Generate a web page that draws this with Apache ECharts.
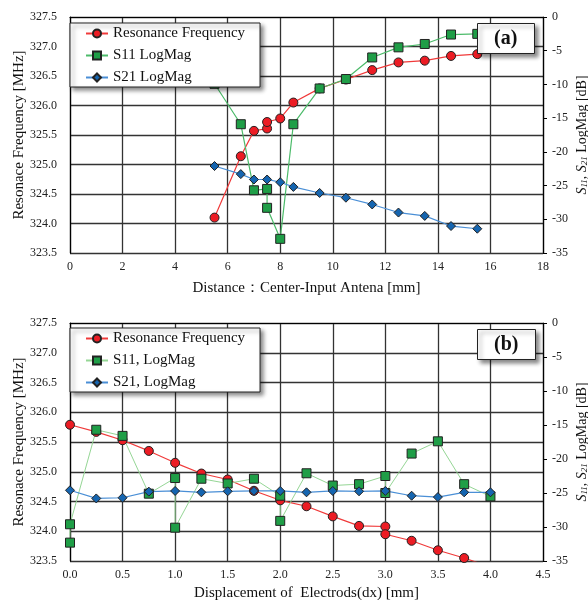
<!DOCTYPE html>
<html><head><meta charset="utf-8">
<script src="https://cdn.jsdelivr.net/npm/echarts@6/dist/echarts.min.js"></script>
<style>html,body{margin:0;padding:0;background:#fff}#c{width:588px;height:600px}</style>
</head><body><div id="c"></div>
<script>
// ---- Chart (a) data ----
const aFreqX = [5.5, 6.5, 7.0, 7.5, 7.5, 8.0, 8.5, 9.5, 10.5, 11.5, 12.5, 13.5, 14.5, 15.5];
const aFreqY = [324.10, 325.14, 325.57, 325.61, 325.72, 325.78, 326.05, 326.29, 326.44, 326.60, 326.73, 326.76, 326.84, 326.87];
const aS11X = [5.5, 6.5, 7.0, 7.5, 7.5, 8.0, 8.5, 9.5, 10.5, 11.5, 12.5, 13.5, 14.5, 15.5];
const aS11Y = [-9.9, -15.9, -25.7, -25.5, -28.3, -32.9, -15.9, -10.6, -9.2, -6.0, -4.5, -4.0, -2.6, -2.5];
const aS21X = [5.5, 6.5, 7.0, 7.5, 8.0, 8.5, 9.5, 10.5, 11.5, 12.5, 13.5, 14.5, 15.5];
const aS21Y = [-22.1, -23.3, -24.1, -24.1, -24.5, -25.2, -26.1, -26.8, -27.8, -29.0, -29.5, -31.0, -31.4];
// ---- Chart (b) data ----
const bFreqX = [0, 0.25, 0.5, 0.75, 1.0, 1.25, 1.5, 1.75, 2.0, 2.25, 2.5, 2.75, 3.0, 3.0, 3.25, 3.5, 3.75, 4.0];
const bFreqY = [325.79, 325.67, 325.53, 325.35, 325.15, 324.97, 324.87, 324.68, 324.52, 324.42, 324.25, 324.09, 324.08, 323.95, 323.84, 323.68, 323.55, 323.40];
const bS11X = [0, 0, 0.25, 0.5, 0.75, 1.0, 1.0, 1.25, 1.5, 1.75, 2.0, 2.0, 2.25, 2.5, 2.75, 3.0, 3.0, 3.25, 3.5, 3.75, 4.0];
const bS11Y = [-32.3, -29.6, -15.7, -16.6, -25.1, -22.8, -30.1, -22.9, -23.6, -22.9, -25.4, -29.1, -22.1, -23.9, -23.7, -22.5, -25.0, -19.2, -17.4, -23.7, -25.5];
const bS21X = [0, 0.25, 0.5, 0.75, 1.0, 1.25, 1.5, 1.75, 2.0, 2.25, 2.5, 2.75, 3.0, 3.25, 3.5, 3.75, 4.0];
const bS21Y = [-24.6, -25.8, -25.7, -24.8, -24.7, -24.9, -24.75, -24.7, -24.7, -24.9, -24.7, -24.75, -24.7, -25.4, -25.6, -24.9, -24.9];

const aNames = ['Resonance Frequency', 'S11 LogMag', 'S21 LogMag'];
const bNames = ['Resonance Frequency', 'S11, LogMag', 'S21, LogMag'];
const panelLabels = ['(a)', '(b)'];
const xTitles = ['Distance\uFF1ACenter-Input Antena [mm]', 'Displacement of  Electrods(dx) [mm]'];
const yTitle = 'Resonace Frequency [MHz]';

const FONT = '"Liberation Serif", "Times New Roman", serif';
const zip = (xs, ys) => xs.map((x, i) => [x, ys[i]]);

const grids = [
  {left: 70, right: 45, top: 17, height: 236, outerBoundsMode: 'none', containLabel: false},
  {left: 70, right: 45, top: 323, height: 238, outerBoundsMode: 'none', containLabel: false}
];
function xAxis(gi, max, interval, fmt) {
  return {
    type: 'value', gridIndex: gi, min: 0, max: max, interval: interval,
    name: xTitles[gi], nameLocation: 'middle', nameGap: gi === 0 ? 28 : 25, nameMoveOverlap: false,
    nameTextStyle: {fontFamily: FONT, fontSize: 15, color: '#111'},
    axisLine: {show: true, lineStyle: {color: '#000', width: 1.2}},
    axisTick: {show: false},
    axisLabel: {fontFamily: FONT, fontSize: 12, color: '#222', margin: 8, formatter: fmt},
    splitLine: {show: true, lineStyle: {color: '#333', width: 1.3}}
  };
}
function yLeft(gi) {
  return {
    type: 'value', gridIndex: gi, min: 323.5, max: 327.5, interval: 0.5, position: 'left',
    name: yTitle, nameLocation: 'middle', nameGap: 43, nameMoveOverlap: false,
    nameTextStyle: {fontFamily: FONT, fontSize: 15, color: '#111'},
    axisLine: {show: true, onZero: false, lineStyle: {color: '#000', width: 1.2}},
    axisTick: {show: false},
    axisLabel: {fontFamily: FONT, fontSize: 12, color: '#222', margin: 13, formatter: v => v.toFixed(1)},
    splitLine: {show: true, lineStyle: {color: '#333', width: 1.3}}
  };
}
function yRight(gi) {
  return {
    type: 'value', gridIndex: gi, min: -35, max: 0, interval: 5, position: 'right',
    name: '{i|S}{s|11}{i|, S}{s|21}{n| LogMag [dB]}', nameLocation: 'middle', nameGap: 32, nameMoveOverlap: false,
    nameTextStyle: {
      fontFamily: FONT, fontSize: 14, color: '#111',
      rich: {
        i: {fontFamily: FONT, fontSize: 14, fontStyle: 'italic', color: '#111'},
        s: {fontFamily: FONT, fontSize: 9, fontStyle: 'italic', color: '#111', verticalAlign: 'bottom', padding: [5, 0, 0, 0]},
        n: {fontFamily: FONT, fontSize: 14, color: '#111'}
      }
    },
    axisLine: {show: true, onZero: false, lineStyle: {color: '#000', width: 1.2}},
    axisTick: {show: true, inside: false, length: 4, lineStyle: {color: '#000'}},
    axisLabel: {fontFamily: FONT, fontSize: 12, color: '#222', margin: 9},
    splitLine: {show: false}
  };
}
function ser(name, xi, yi, data, sym, size, fill, line, lw) {
  return {
    name: name, type: 'line', xAxisIndex: xi, yAxisIndex: yi, data: data,
    symbol: sym, symbolSize: size, clip: true, animation: false,
    itemStyle: {color: fill, borderColor: '#222', borderWidth: 1},
    lineStyle: {color: line, width: lw}
  };
}
const legendBase = {
  orient: 'vertical', left: 70, itemWidth: 22, itemHeight: 10, itemGap: 7,
  padding: [3, 15, 2, 15],
  backgroundColor: '#fff', borderColor: '#222', borderWidth: 1,
  shadowBlur: 4, shadowColor: 'rgba(0,0,0,0.45)', shadowOffsetX: 3, shadowOffsetY: 3,
  textStyle: {fontFamily: FONT, fontSize: 15, color: '#111'}
};
const titleBase = {
  textStyle: {fontFamily: FONT, fontSize: 20, fontWeight: 'bold', color: '#111', lineHeight: 23},
  padding: [4, 17, 4, 17],
  backgroundColor: '#fff', borderColor: '#222', borderWidth: 1,
  shadowBlur: 4, shadowColor: 'rgba(0,0,0,0.45)', shadowOffsetX: 3, shadowOffsetY: 3
};

const option = {
  backgroundColor: '#fff',
  animation: false,
  title: [
    Object.assign({}, titleBase, {text: panelLabels[0], left: 477, top: 23}),
    Object.assign({}, titleBase, {text: panelLabels[1], left: 477, top: 329})
  ],
  legend: [
    Object.assign({}, legendBase, {top: 23, data: aNames}),
    Object.assign({}, legendBase, {top: 328, data: bNames})
  ],
  grid: grids,
  xAxis: [xAxis(0, 18, 2, v => String(v)), xAxis(1, 4.5, 0.5, v => v.toFixed(1))],
  yAxis: [yLeft(0), yRight(0), yLeft(1), yRight(1)],
  series: [
    ser(aNames[0], 0, 0, zip(aFreqX, aFreqY), 'circle', 9, '#ec1c24', '#f03a3a', 1.2),
    ser(aNames[1], 0, 1, zip(aS11X, aS11Y), 'rect', 9, '#1f9e47', '#4cbb6a', 1.2),
    ser(aNames[2], 0, 1, zip(aS21X, aS21Y), 'diamond', 9, '#1565b0', '#4a8fd6', 1.2),
    ser(bNames[0], 1, 2, zip(bFreqX, bFreqY), 'circle', 9, '#ec1c24', '#f03a3a', 1.2),
    ser(bNames[1], 1, 3, zip(bS11X, bS11Y), 'rect', 9, '#1f9e47', '#95d695', 1),
    ser(bNames[2], 1, 3, zip(bS21X, bS21Y), 'diamond', 9, '#1565b0', '#4a8fd6', 1.2)
  ]
};
const chart = echarts.init(document.getElementById('c'), null, {renderer: 'canvas'});
chart.setOption(option);
</script>
</body></html>
